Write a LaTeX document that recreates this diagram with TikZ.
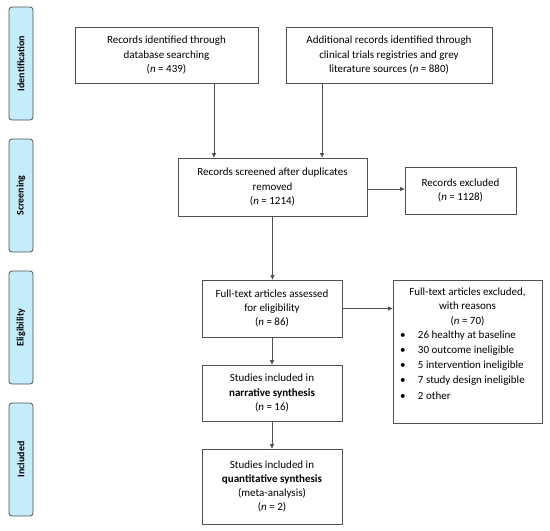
\documentclass[tikz,border=0pt]{standalone}
\usepackage{fontspec}
\setmainfont{Carlito}
\usetikzlibrary{arrows.meta}

\definecolor{stagefill}{RGB}{197,236,251}
\definecolor{linegray}{RGB}{80,80,80}

\tikzset{
	box/.style={draw=linegray, line width=0.8pt, align=center, inner sep=2pt, font=\fontsize{11}{14.2}\selectfont},
	stage/.style={draw=linegray, fill=stagefill, rounded corners=3pt, line width=0.8pt, minimum width=24pt, minimum height=113pt, inner sep=0pt, font=\fontsize{10}{11}\selectfont\bfseries},
	arrow/.style={draw=linegray, line width=0.7pt, -{Triangle[length=4.5pt,width=4pt]}}
}
\newcommand{\reason}{\hspace*{4pt}\makebox[18pt][l]{\textbullet}}

\begin{document}
\begin{tikzpicture}[x=1pt,y=-1pt]
	\useasboundingbox (0,0) rectangle (550,531);
	
	% Stages (left column)
	\node[stage] (ident) at (21, 63.5) {\rotatebox{90}{Identification}};
	\node[stage] (screen) at (21, 195.5) {\rotatebox{90}{Screening}};
	\node[stage] (elig) at (21, 327.5) {\rotatebox{90}{Eligibility}};
	\node[stage] (incl) at (21, 459.5) {\rotatebox{90}{Included}};
	
	% Identification
	\node[box, minimum width=183pt, minimum height=56pt] (dbase) at (166.5, 55) {Records identified through\\ database searching\\ (\textit{n} = 439)};
	\node[box, minimum width=206pt, minimum height=56pt] (extra) at (389, 55) {Additional records identified through\\ clinical trials registries and grey\\ literature sources (\textit{n} = 880)};
	
	% Screening
	\node[box, minimum width=189pt, minimum height=58pt] (screened) at (272.5, 187) {Records screened after duplicates\\ removed\\ (\textit{n} = 1214)};
	\node[box, minimum width=111pt, minimum height=47pt] (excl) at (460.5, 190.5) {Records excluded\\ (\textit{n} = 1128)};
	
	% Eligibility
	\node[box, minimum width=140pt, minimum height=57pt] (full) at (272, 308.5) {Full-text articles assessed\\ for eligibility\\ (\textit{n} = 86)};
	\node[box, minimum width=149pt, minimum height=143pt] (reasons) at (467.5, 351.5) {\parbox[c][135pt][t]{143pt}{%
			\vspace*{4pt}
			\centering Full-text articles excluded,\\ with reasons\\ (\textit{n} = 70)\par
			\raggedright
			\reason 26 healthy at baseline\\[1pt]
			\reason 30 outcome ineligible\\[1pt]
			\reason 5 intervention ineligible\\[1pt]
			\reason 7 study design ineligible\\[1pt]
			\reason 2 other}};
	
	% Included
	\node[box, minimum width=140pt, minimum height=56pt] (narr) at (272, 393) {Studies included in\\ \textbf{narrative synthesis}\\ (\textit{n} = 16)};
	\node[box, minimum width=140pt, minimum height=75pt] (quant) at (272, 486.5) {Studies included in\\ \textbf{quantitative synthesis}\\ (meta-analysis)\\ (\textit{n} = 2)};
	
	% Arrows
	\draw[arrow] ([xshift=47.5pt]dbase.south) -- ([xshift=47.5pt]dbase.south |- screened.north); % left source
	\draw[arrow] ([xshift=-67pt]extra.south) -- ([xshift=-67pt]extra.south |- screened.north); % right source
	\draw[arrow] ([yshift=-2pt]screened.east) -- ([yshift=-2pt]screened.east -| excl.west);
	\draw[arrow] (screened.south) -- (screened.south |- full.north);
	\draw[arrow] (full.east) -- (full.east -| reasons.west);
	\draw[arrow] (full.south) -- (narr.north);
	\draw[arrow] (narr.south) -- (quant.north);
\end{tikzpicture}
\end{document}
